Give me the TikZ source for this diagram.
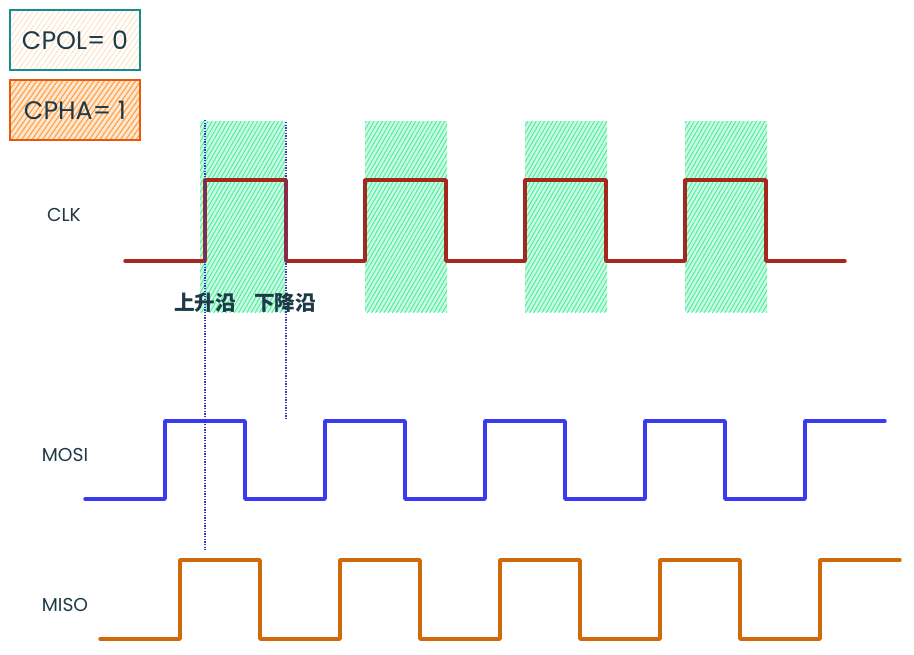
\documentclass[tikz,border=0pt]{standalone}
\usepackage{fontspec}
\setmainfont{Poppins}
\newfontfamily\cjkfont{Noto Sans CJK SC}
\usetikzlibrary{patterns.meta}
\definecolor{clkred}{HTML}{A5281F}
\definecolor{mosiblue}{HTML}{3A3AF2}
\definecolor{misoorange}{HTML}{CF6A0C}
\definecolor{edgegreen}{HTML}{4DEE9E}
\definecolor{polteal}{HTML}{168C8C}
\definecolor{polcream}{HTML}{FFDDB8}
\definecolor{phaorange}{HTML}{E8590C}
\definecolor{phalight}{HTML}{FFA24A}
\definecolor{inkdark}{HTML}{1E3A48}
\definecolor{markblue}{HTML}{3535C8}
\tikzset{
  flagbox/.style={draw, minimum width=97.5pt, minimum height=45pt,
                  font=\fontsize{19}{22}\selectfont, text=inkdark, line width=0.9pt, inner sep=0pt},
  polbox/.style={flagbox, draw=polteal,
                 pattern={Lines[angle=55, distance=3.2pt, line width=0.6pt]}, pattern color=polcream},
  phabox/.style={flagbox, draw=phaorange, preaction={fill=phalight!25},
                 pattern={Lines[angle=55, distance=3.2pt, line width=0.9pt]}, pattern color=phalight},
  siglabel/.style={font=\fontsize{14}{16}\selectfont, text=inkdark},
  edgelabel/.style={font=\cjkfont\bfseries\fontsize{15.5}{18}\selectfont, text=inkdark},
  sampleband/.style={preaction={fill=edgegreen!30},
                     pattern={Lines[angle=60, distance=2.7pt, line width=0.7pt]}, pattern color=edgegreen},
  wave/.style={line width=2.6pt, line join=round, line cap=round},
  marker/.style={markblue, line width=1.4pt, dash pattern=on 0.9pt off 1.1pt},
}

\begin{document}
\begin{tikzpicture}[x=0.75pt, y=-0.75pt]
    \useasboundingbox (0,0) rectangle (914,654);

    % CPOL / CPHA flags
    \node[polbox] (cpol) at (75,40) {CPOL= 0};
    \node[phabox] (cpha) at (75,110) {CPHA= 1};

    % sampling windows
    \fill[sampleband] (200,121) rectangle (285,312);
    \fill[sampleband] (365,121) rectangle (447,312);
    \fill[sampleband] (525,121) rectangle (607,312);
    \fill[sampleband] (685,121) rectangle (767,312);

    % signal names
    \node[siglabel] (clk) at (64,215) {CLK};
    \node[siglabel] (mosi) at (65,455) {MOSI};
    \node[siglabel] (miso) at (65,605) {MISO};

    % CLK
    \draw[wave, clkred] (125,261) -- (205,261) -- (205,180) -- (286,180) -- (286,261)
      -- (365,261) -- (365,180) -- (446,180) -- (446,261)
      -- (525,261) -- (525,180) -- (606,180) -- (606,261)
      -- (685,261) -- (685,180) -- (766,180) -- (766,261) -- (845,261);

    % MOSI
    \draw[wave, mosiblue] (85,499) -- (165,499) -- (165,421) -- (245,421) -- (245,499)
      -- (325,499) -- (325,421) -- (405,421) -- (405,499)
      -- (485,499) -- (485,421) -- (565,421) -- (565,499)
      -- (645,499) -- (645,421) -- (725,421) -- (725,499)
      -- (805,499) -- (805,421) -- (885,421);

    % MISO
    \draw[wave, misoorange] (100,639) -- (180,639) -- (180,560) -- (260,560) -- (260,639)
      -- (340,639) -- (340,560) -- (420,560) -- (420,639)
      -- (500,639) -- (500,560) -- (580,560) -- (580,639)
      -- (660,639) -- (660,560) -- (740,560) -- (740,639)
      -- (820,639) -- (820,560) -- (900,560);

    % edge markers
    \coordinate (risetop) at (205,120);
    \coordinate (risebot) at (205,550);
    \coordinate (falltop) at (286,122);
    \coordinate (fallbot) at (286,420);
    \draw[marker] (risetop) -- (risebot);
    \draw[marker] (falltop) -- (fallbot);

    \node[edgelabel] (rise) at (205,303) {上升沿};
    \node[edgelabel] (fall) at (285,303) {下降沿};
  \end{tikzpicture}
\end{document}
